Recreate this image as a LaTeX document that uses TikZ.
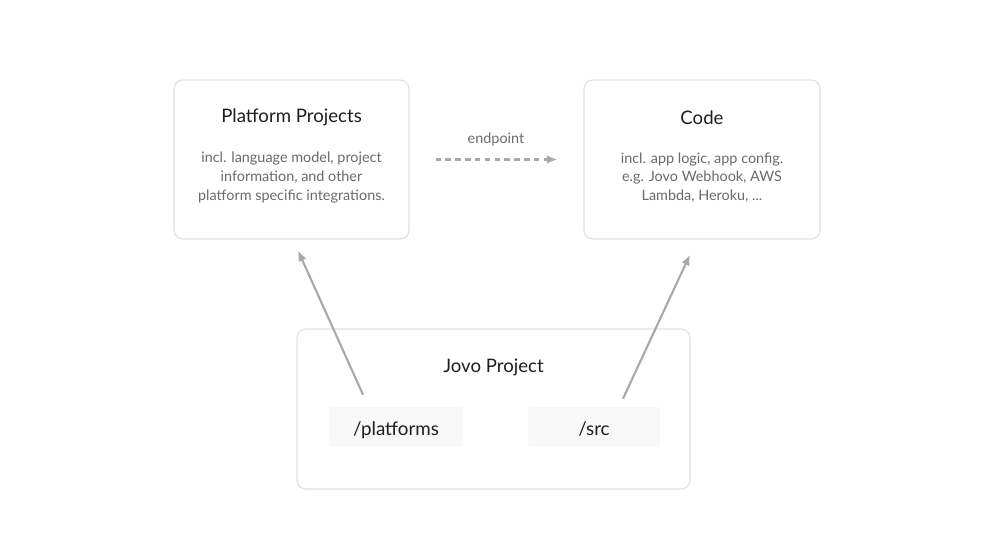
\documentclass[tikz,border=0pt]{standalone}
\usepackage{fontspec}
\setmainfont{Lato}
\usetikzlibrary{calc,arrows.meta}
\definecolor{edgegrey}{HTML}{E2E2E2}
\definecolor{arrowgrey}{HTML}{A8A8A8}
\definecolor{bodygrey}{HTML}{6A6A6A}
\definecolor{dirfill}{HTML}{F8F8F8}
\begin{document}
\begin{tikzpicture}[x=0.02cm,y=-0.02cm,
    card/.style={draw=edgegrey,line width=0.7pt,rounded corners=5pt,fill=white},
    dirbox/.style={fill=dirfill,rounded corners=1pt,minimum width=2.64cm,minimum height=0.8cm,text height=10pt,text depth=0pt,font=\fontsize{10.7}{12}\selectfont,text=black!88},
    heading/.style={font=\fontsize{10.6}{12}\selectfont,text=black!88},
    bodytext/.style={font=\fontsize{8.2}{10.7}\selectfont,text=bodygrey,align=center},
    link/.style={draw=arrowgrey,line width=1.2pt,-{Latex[length=6pt,width=5pt]}}]
        \useasboundingbox (0,0) rectangle (1000,541);
        % upper boxes
        \node[card,minimum width=4.7cm,minimum height=3.18cm] (platproj) at (291.5,159.5) {};
        \node[heading] (plattitle) at (291.5,117.5) {Platform Projects};
        \node[bodytext] (platbody) at (291.5,177.5) {incl. language model, project\\information, and other\\platform specific integrations.};
        \node[card,minimum width=4.72cm,minimum height=3.18cm] (code) at (702,159.5) {};
        \node[heading] (codetitle) at (702,117.5) {Code};
        \node[bodytext] (codebody) at (702,177.5) {incl. app logic, app config.\\e.g. Jovo Webhook, AWS\\Lambda, Heroku, ...};
        % endpoint link
        \node[font=\fontsize{8.2}{10}\selectfont,text=bodygrey] (endlabel) at (496,139) {endpoint};
        \draw[link,line width=1.3pt,dash pattern=on 3.1pt off 2.5pt] ($(platproj.east)+(26,0)$) -- ($(code.west)+(-26,0)$);
        % jovo project
        \node[card,minimum width=7.86cm,minimum height=3.2cm] (jovo) at (493.5,409) {};
        \node[heading] (jovotitle) at (493.5,367.5) {Jovo Project};
        \node[dirbox] (platdir) at (396,427) {/platforms};
        \node[dirbox] (srcdir) at (594,427) {/src};
        \draw[link] ($(platdir.north)+(-33,-12)$) -- ($(platproj.south)+(6.5,11)$);
        \draw[link] ($(srcdir.north)+(29,-8)$) -- ($(code.south)+(-12,15)$);
\end{tikzpicture}
\end{document}
